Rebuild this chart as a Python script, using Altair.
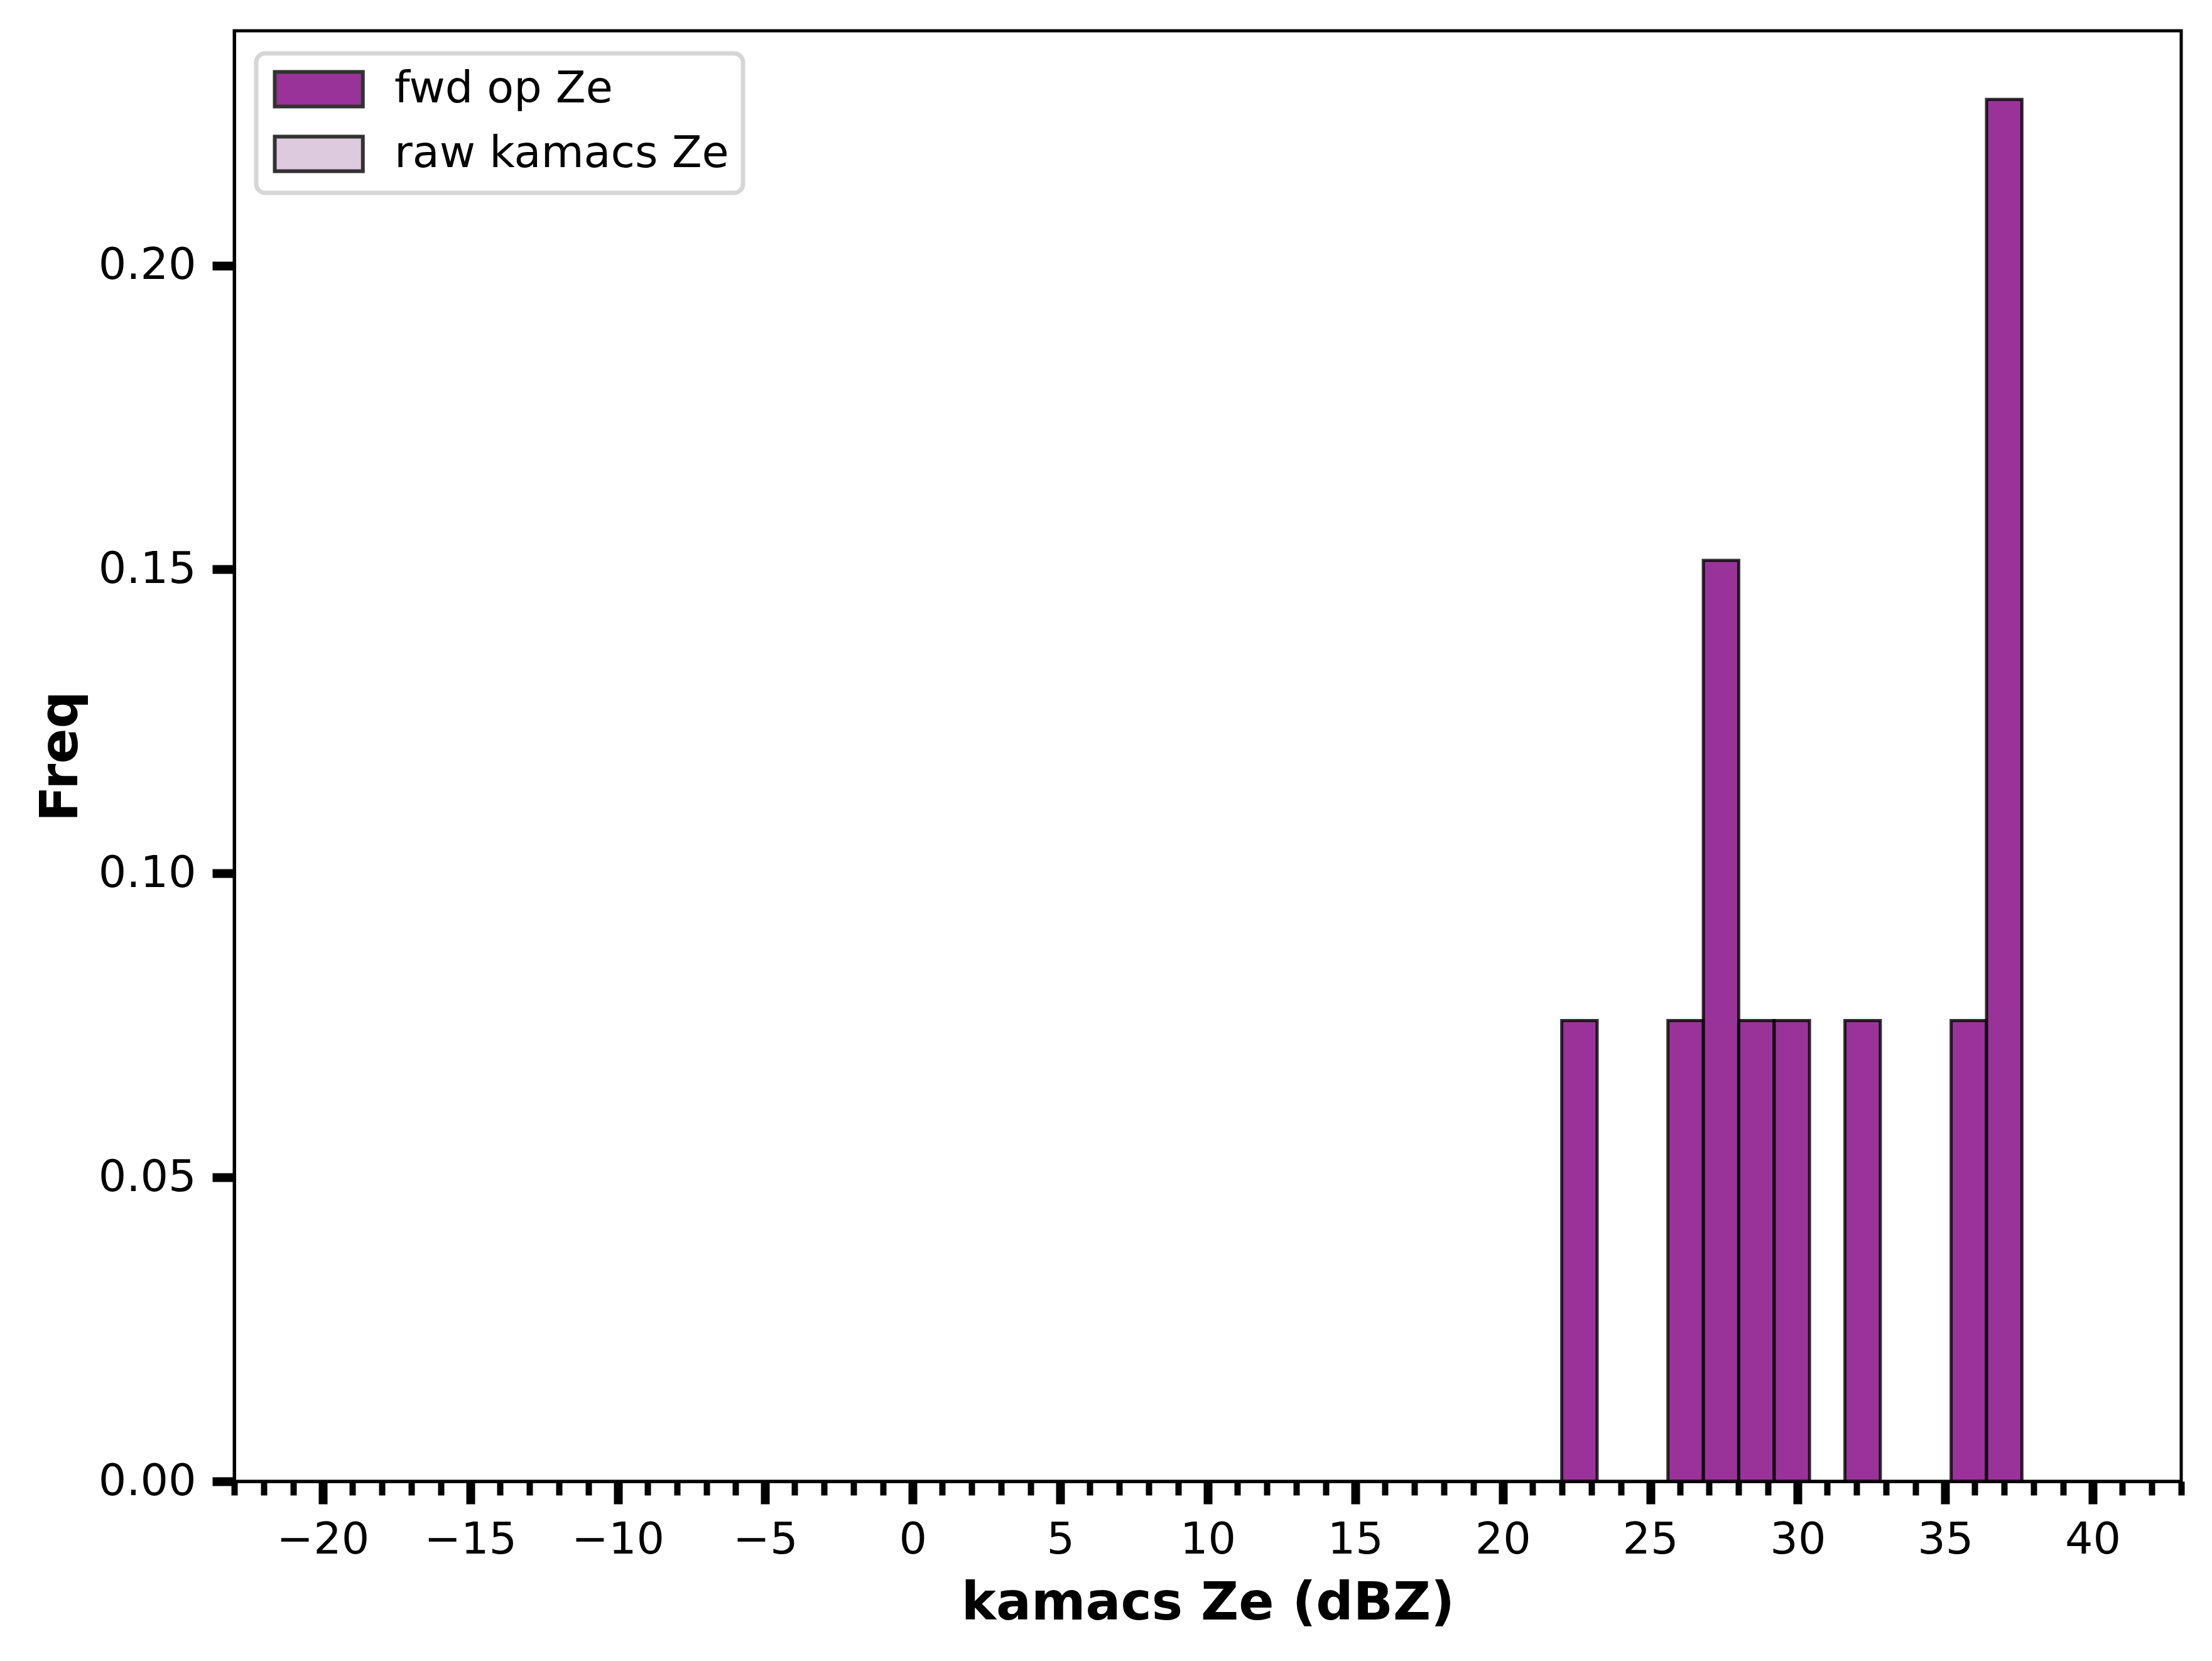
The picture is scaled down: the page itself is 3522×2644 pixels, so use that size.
import altair as alt
import pandas as pd

# Histogram bins (dBZ) and density values
bin_left = [22.0, 25.6, 26.8, 28.0, 29.2, 31.6, 35.2, 36.4]
bin_right = [23.2, 26.8, 28.0, 29.2, 30.4, 32.8, 36.4, 37.6]
freq = [0.0758, 0.0758, 0.1515, 0.0758, 0.0758, 0.0758, 0.0758, 0.2273]

series_names = ["fwd op Ze", "raw kamacs Ze"]
series_colors = ["#800080", "#d7bed7"]

x_ticks = list(range(-23, 44))
y_ticks = [0.0, 0.05, 0.10, 0.15, 0.20]

df = pd.DataFrame({
    "lo": bin_left,
    "hi": bin_right,
    "freq": freq,
    "base": [0.0] * len(freq),
    "series": [series_names[0]] * len(freq),
})

FONT = "DejaVu Sans"

x_axis = alt.Axis(
    values=x_ticks,
    format="d",
    labelExpr="datum.value % 5 === 0 ? datum.label : ''",
    labelOverlap=False,
    labelFlush=False,
    labelFont=FONT,
    labelFontSize=70,
    labelColor="black",
    labelPadding=23,
    tickColor="black",
    tickSize={"condition": {"test": "datum.value % 5 === 0", "value": 36}, "value": 22},
    tickWidth={"condition": {"test": "datum.value % 5 === 0", "value": 14}, "value": 10},
    domainColor="black",
    domainWidth=5,
    grid=False,
    title="kamacs Ze (dBZ)",
    titleFont=FONT,
    titleFontSize=83,
    titleFontWeight="bold",
    titleColor="black",
    titlePadding=25,
)

y_axis = alt.Axis(
    values=y_ticks,
    format=".2f",
    labelFont=FONT,
    labelFontSize=70,
    labelColor="black",
    labelPadding=26,
    tickColor="black",
    tickSize=35,
    tickWidth=14,
    domainColor="black",
    domainWidth=5,
    grid=False,
    title="Freq",
    titleFont=FONT,
    titleFontSize=83,
    titleFontWeight="bold",
    titleColor="black",
    titlePadding=34,
)

# legend swatch: ~140 x 55 px rectangle (symbol size 55^2, path extends to the right)
legend = alt.Legend(
    title=None,
    orient="none",
    legendX=35,
    legendY=36,
    direction="vertical",
    symbolType="M-1,-1H4.1V1H-1Z",
    symbolSize=3025,
    symbolOpacity=0.8,
    symbolStrokeColor="black",
    symbolStrokeWidth=6,
    labelFont=FONT,
    labelFontSize=70,
    labelColor="black",
    labelOffset=128,
    labelLimit=0,
    padding=22,
    rowPadding=23,
    fillColor="white",
    strokeColor="#d6d6d6",
    cornerRadius=14,
)

chart = (
    alt.Chart(df)
    .mark_rect(fillOpacity=0.8, stroke="black", strokeOpacity=0.8, strokeWidth=5)
    .encode(
        x=alt.X("lo:Q", scale=alt.Scale(domain=[-23, 43], nice=False, zero=False), axis=x_axis),
        x2="hi:Q",
        y=alt.Y("freq:Q", scale=alt.Scale(domain=[0, 0.2386], nice=False), axis=y_axis),
        y2="base:Q",
        color=alt.Color(
            "series:N",
            scale=alt.Scale(domain=series_names, range=series_colors),
            legend=legend,
        ),
    )
    .properties(
        width=3100,
        height=2309,
        autosize="none",
        padding={"left": 365, "top": 41, "right": 41, "bottom": 278},
        background="white",
    )
    .configure_view(stroke="black", strokeWidth=5)
    .configure_legend(strokeWidth=7)
)

chart.save("out.html", embed_options={"renderer": "svg", "actions": False})
